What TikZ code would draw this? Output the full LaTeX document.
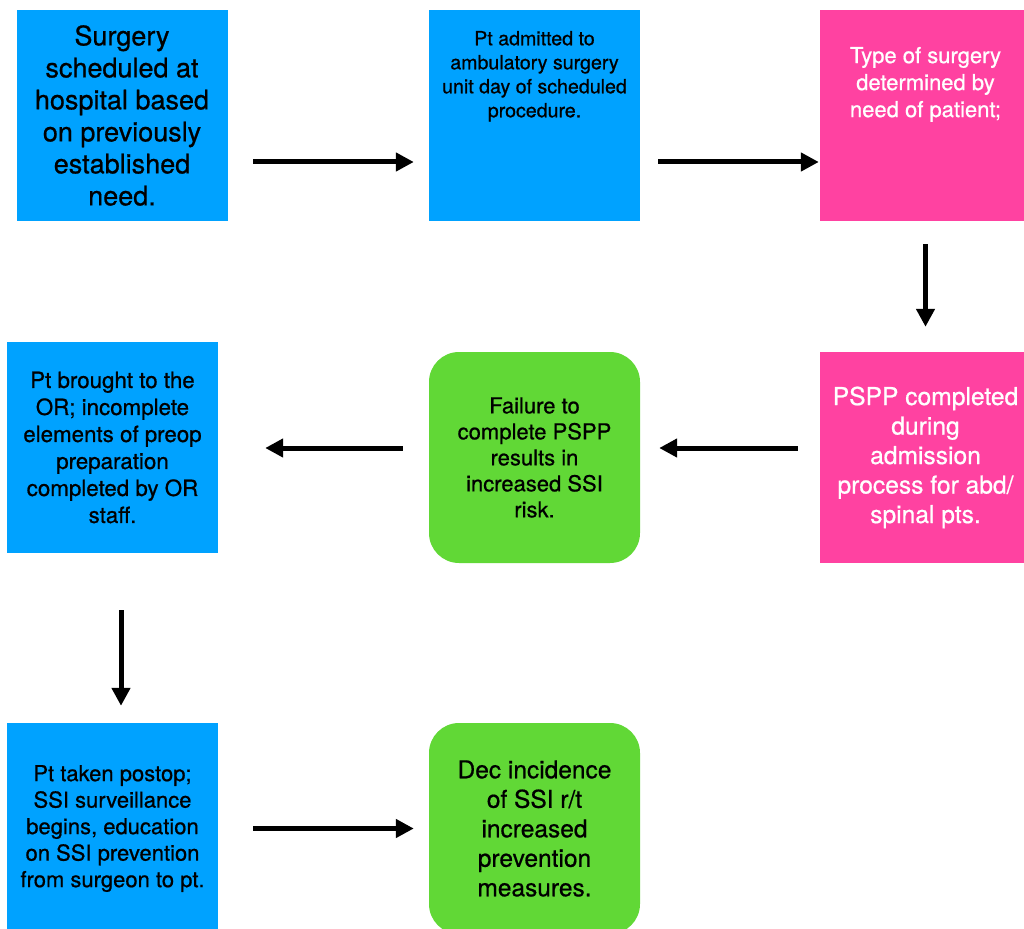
\documentclass[tikz,border=0pt]{standalone}
\usepackage{fontspec}
\setmainfont{TeX Gyre Heros}[FakeBold=0.7]
\usepackage{xcolor}
\usepackage{tikz}
\usetikzlibrary{arrows.meta}
\definecolor{keyblue}{RGB}{0,162,255}
\definecolor{keypink}{RGB}{255,66,161}
\definecolor{keygreen}{RGB}{97,216,54}
\newcommand{\toptext}[2]{\parbox[c][211pt][t]{211pt}{\centering\vspace*{#1}#2}}

\begin{document}
\begin{tikzpicture}[x=1pt, y=-1pt,
	box/.style={rectangle, inner sep=0pt, minimum width=211pt, minimum height=211pt, align=center},
	bluebox/.style={box, fill=keyblue, text=black},
	pinkbox/.style={box, fill=keypink, text=white},
	greenbox/.style={box, fill=keygreen, rounded corners=30pt, text=black},
	flow/.style={line width=5pt, -{Triangle[length=18pt, width=18pt]}}]
	% Page frame
	\useasboundingbox (0,0) rectangle (1024,928);
	\clip (0,0) rectangle (1024,928);
	
	% Top row
	\node[bluebox, font=\fontsize{27}{32}\selectfont] (sched) at (122,115.5) {Surgery\\scheduled at\\hospital based\\on previously\\established\\need.};
	\node[bluebox, font=\fontsize{19.6}{24}\selectfont] (admit) at (534.5,115.5) {\toptext{21pt}{Pt admitted to\\ambulatory surgery\\unit day of scheduled\\procedure.}};
	\node[pinkbox, font=\fontsize{22}{27}\selectfont] (type) at (925.5,115.5) {\toptext{37pt}{Type of surgery\\determined by\\need of patient;}};
	
	% Middle row
	\node[pinkbox, font=\fontsize{24.6}{29.5}\selectfont] (pspp) at (925.5,457.5) {PSPP completed\\during\\admission\\process for abd/\\spinal pts.};
	\node[greenbox, font=\fontsize{22}{26}\selectfont] (fail) at (534.5,457.5) {Failure to\\complete PSPP\\results in\\increased SSI\\risk.};
	\node[bluebox, font=\fontsize{22.3}{27}\selectfont] (orprep) at (112.5,447.5) {Pt brought to the\\OR; incomplete\\elements of preop\\preparation\\completed by OR\\staff.};
	
	% Bottom row
	\node[bluebox, font=\fontsize{22}{26.5}\selectfont] (postop) at (112.5,828.5) {Pt taken postop;\\SSI surveillance\\begins, education\\on SSI prevention\\from surgeon to pt.};
	\node[greenbox, font=\fontsize{24.5}{29.5}\selectfont] (dec) at (534.5,828.5) {Dec incidence\\of SSI r/t\\increased\\prevention\\measures.};
	
	% Arrows
	\draw[flow, shorten <=25.5pt, shorten >=15pt] ([yshift=-46.5pt]sched.east) -- ([yshift=-46.5pt]admit.west);
	\draw[flow, shorten <=18pt, shorten >=1pt] ([yshift=-46.5pt]admit.east) -- ([yshift=-46.5pt]type.west);
	\draw[flow, shorten <=23pt, shorten >=25pt] (type.south) -- (pspp.north);
	\draw[flow, shorten <=22pt, shorten >=19pt] ([yshift=9.5pt]pspp.west) -- ([yshift=9.5pt]fail.east);
	\draw[flow, shorten <=26pt, shorten >=47pt] ([yshift=9.5pt]fail.west) -- ([yshift=-0.5pt]orprep.east);
	\draw[flow, shorten <=57pt, shorten >=17pt] ([xshift=8.5pt]orprep.south) -- ([xshift=8.5pt]postop.north);
	\draw[flow, shorten <=35pt, shorten >=15pt] (postop.east) -- (dec.west);
\end{tikzpicture}
\end{document}
